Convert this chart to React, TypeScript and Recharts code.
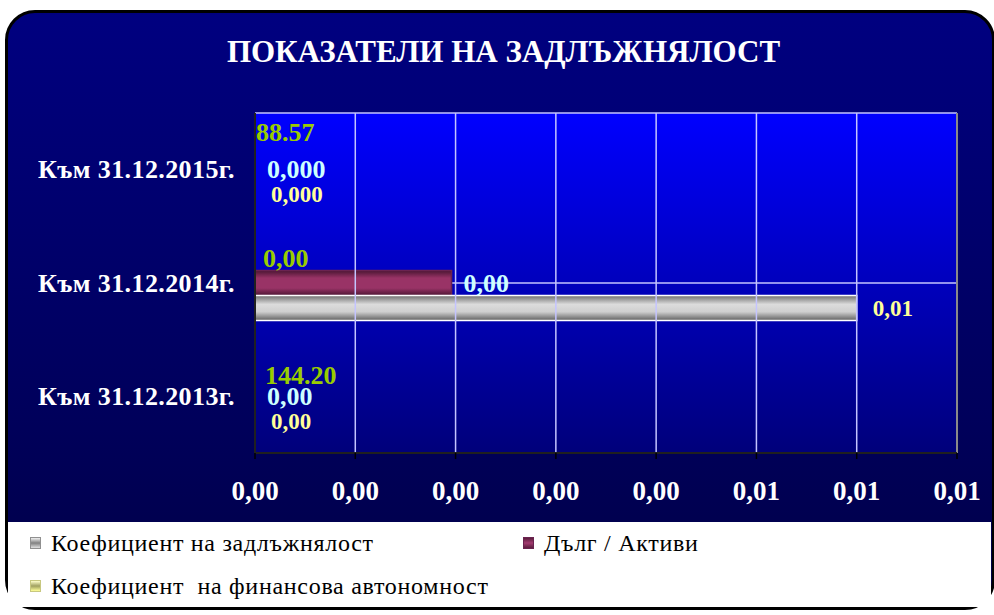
import { BarChart, Bar, XAxis, YAxis, CartesianGrid, LabelList, ReferenceLine } from "recharts";

const categories = ["Към 31.12.2015г.", "Към 31.12.2014г.", "Към 31.12.2013г."];

// Коефициент на задлъжнялост
const debtRatio = [0, 0.006, 0];
const debtRatioLabels = ["0,000", "0,01", "0,00"];

// Дълг / Активи
const debtToAssets = [0, 0.00196, 0];
const debtToAssetsLabels = ["0,000", "0,00", "0,00"];

// Коефициент на финансова автономност (off the axis range, no visible bar)
const autonomy = [88.57, 0, 144.2];
const autonomyLabels = ["88.57", "0,00", "144.20"];

const xTicks = [0, 0.001, 0.002, 0.003, 0.004, 0.005, 0.006, 0.007];
const xTickLabels = ["0,00", "0,00", "0,00", "0,00", "0,00", "0,01", "0,01", "0,01"];

const SERIF = '"Liberation Serif", "Times New Roman", "DejaVu Serif", serif';

// hand-placed label nudges, as in the original sheet
const AUTONOMY_NUDGE = [
  { dx: -5, dy: -12 },
  { dx: 2, dy: 0 },
  { dx: 4, dy: 4 },
];

const data = categories.map((category, i) => ({
  category,
  debtRatio: debtRatio[i],
  debtRatioLabel: debtRatioLabels[i],
  debtToAssets: debtToAssets[i],
  debtToAssetsLabel: debtToAssetsLabels[i],
  autonomy: autonomy[i],
  autonomyLabel: autonomyLabels[i],
}));

const makeLabel =
  (color: string, size: number, dx: number, atBase: boolean, nudge?: { dx: number; dy: number }[]) =>
  (props: any) => {
    const { x, y, width, height, value, index } = props;
    const w = Number(width) < 1 ? 0 : Number(width);
    const bx = atBase ? Number(x) : Number(x) + w;
    const n = nudge?.[index] ?? { dx: 0, dy: 0 };
    return (
      <text
        x={bx + dx + n.dx}
        y={Number(y) + Number(height) / 2 + n.dy}
        fill={color}
        fontSize={size}
        fontWeight="bold"
        fontFamily={SERIF}
        dominantBaseline="central"
      >
        {value}
      </text>
    );
  };

const CategoryTick = (props: any) => {
  const { x, y, payload } = props;
  return (
    <text
      x={x - 20}
      y={y}
      textAnchor="end"
      dominantBaseline="central"
      fill="#ffffff"
      fontSize={26}
      letterSpacing={0.4}
      fontWeight="bold"
      fontFamily={SERIF}
    >
      {payload.value}
    </text>
  );
};

const ValueTick = (props: any) => {
  const { x, y, index } = props;
  return (
    <g>
      <line x1={x} x2={x} y1={y - 8} y2={y - 2} stroke="#000" strokeWidth={1.5} />
      <text
        x={x}
        y={y + 30}
        textAnchor="middle"
        dominantBaseline="central"
        fill="#ffffff"
        fontSize={27}
        fontWeight="bold"
        fontFamily={SERIF}
      >
        {xTickLabels[index]}
      </text>
    </g>
  );
};

const legendItems = [
  { name: "Коефициент на задлъжнялост", grad: "linear-gradient(#f0f0f0, #808080 50%, #e0e0e0)", border: "#909090" },
  { name: "Дълг / Активи", grad: "linear-gradient(#5a1d3d, #a33a70 50%, #5a1d3d)", border: "#6b2350" },
  { name: "Коефициент  на финансова автономност", grad: "linear-gradient(#ffffcc, #a0a060 50%, #ffff99)", border: "#c8c880" },
];

export default function App() {
  return (
    <div style={{ position: "absolute", left: 0, top: 0, width: 994, height: 615, background: "#ffffff", overflow: "hidden" }}>
      <div
        style={{
          position: "absolute",
          left: 5,
          top: 10,
          width: 990,
          height: 600,
          boxSizing: "border-box",
          border: "3px solid #000",
          borderRadius: 30,
          background: "linear-gradient(to bottom, #000080 0%, #00005a 70%, #000046 100%)",
        }}
      />
      <div
        style={{
          position: "absolute",
          left: 0,
          top: 34,
          width: 1007,
          textAlign: "center",
          color: "#ffffff",
          fontFamily: SERIF,
          fontWeight: "bold",
          fontSize: 31,
          lineHeight: "36px",
          whiteSpace: "nowrap",
        }}
      >
        ПОКАЗАТЕЛИ НА ЗАДЛЪЖНЯЛОСТ
      </div>

      <div style={{ position: "absolute", left: 0, top: 0 }}>
        <BarChart
          width={994}
          height={520}
          data={data}
          layout="vertical"
          margin={{ top: 113, right: 37, bottom: 0, left: 0 }}
          barCategoryGap="17%"
          barGap={0}
        >
          <defs>
            <linearGradient id="plotBg" x1="0" y1="0" x2="0" y2="1">
              <stop offset="0%" stopColor="#0000ff" />
              <stop offset="100%" stopColor="#00007a" />
            </linearGradient>
            <linearGradient id="grayBar" x1="0" y1="0" x2="0" y2="1">
              <stop offset="0%" stopColor="#6e6e6e" />
              <stop offset="35%" stopColor="#dcdcdc" />
              <stop offset="65%" stopColor="#cfcfcf" />
              <stop offset="100%" stopColor="#5e5e5e" />
            </linearGradient>
            <linearGradient id="maroonBar" x1="0" y1="0" x2="0" y2="1">
              <stop offset="0%" stopColor="#4a1632" />
              <stop offset="30%" stopColor="#993366" />
              <stop offset="70%" stopColor="#993366" />
              <stop offset="100%" stopColor="#4a1632" />
            </linearGradient>
          </defs>
          <CartesianGrid
            yAxisId="grid"
            vertical={false}
            fill="url(#plotBg)"
            stroke="#c4c4ff"
            strokeWidth={1.5}
          />
          {xTicks.map((t, i) => (
            <ReferenceLine
              key={t}
              yAxisId="grid"
              x={t}
              stroke={i === xTicks.length - 1 ? "#8a8a8a" : "#c4c4ff"}
              strokeWidth={i === xTicks.length - 1 ? 2 : 1.5}
            />
          ))}
          <ReferenceLine yAxisId="grid" y={6} stroke="#8a8a8a" strokeWidth={2} />
          <XAxis
            type="number"
            domain={[0, 0.007]}
            ticks={xTicks}
            allowDataOverflow
            height={67}
            axisLine={{ stroke: "#202020", strokeWidth: 2 }}
            tickLine={false}
            tickSize={6}
            tick={<ValueTick />}
            interval={0}
          />
          <YAxis yAxisId="grid" type="number" domain={[0, 6]} ticks={[0, 1, 2, 3, 4, 5, 6]} hide />
          <YAxis
            yAxisId="marks"
            type="number"
            domain={[0, 6]}
            ticks={[0, 2, 4, 6]}
            width={0}
            tick={false}
            axisLine={false}
            tickLine={{ stroke: "#000", strokeWidth: 1.5 }}
            tickSize={6}
          />
          <YAxis
            yAxisId="cat"
            type="category"
            dataKey="category"
            width={255}
            axisLine={{ stroke: "#202020", strokeWidth: 2 }}
            tickLine={false}
            tickSize={0}
            tickMargin={0}
            tick={<CategoryTick />}
            interval={0}
          />
          <Bar yAxisId="cat" dataKey="autonomy" fill="transparent" minPointSize={0.01} isAnimationActive={false}>
            <LabelList dataKey="autonomyLabel" content={makeLabel("#99cc00", 26, 6, true, AUTONOMY_NUDGE)} />
          </Bar>
          <Bar
            yAxisId="cat"
            dataKey="debtToAssets"
            fill="url(#maroonBar)"
            stroke="#6b2350"
            strokeWidth={1.5}
            minPointSize={0.01}
            isAnimationActive={false}
          >
            <LabelList dataKey="debtToAssetsLabel" content={makeLabel("#ccffff", 26, 12, false)} />
          </Bar>
          <Bar
            yAxisId="cat"
            dataKey="debtRatio"
            fill="url(#grayBar)"
            stroke="#ffffff"
            strokeWidth={1.5}
            minPointSize={0.01}
            isAnimationActive={false}
          >
            <LabelList dataKey="debtRatioLabel" content={makeLabel("#ffff99", 23, 16, false)} />
          </Bar>
        </BarChart>
      </div>

      <div
        style={{
          position: "absolute",
          left: 8,
          top: 522,
          width: 983,
          height: 85,
          background: "#ffffff",
          fontFamily: SERIF,
          fontSize: 24,
          letterSpacing: 0.7,
          color: "#000",
        }}
      >
        {legendItems.map((item, i) => (
          <div
            key={item.name}
            style={{
              position: "absolute",
              left: i === 1 ? 515 : 22,
              top: i === 2 ? 51 : 8,
              display: "flex",
              alignItems: "center",
              whiteSpace: "pre",
              lineHeight: "26px",
            }}
          >
            <span
              style={{
                display: "inline-block",
                width: 11,
                height: 12,
                boxSizing: "border-box",
                border: `1px solid ${item.border}`,
                background: item.grad,
                marginRight: 10,
              }}
            />
            {item.name}
          </div>
        ))}
      </div>
    </div>
  );
}
